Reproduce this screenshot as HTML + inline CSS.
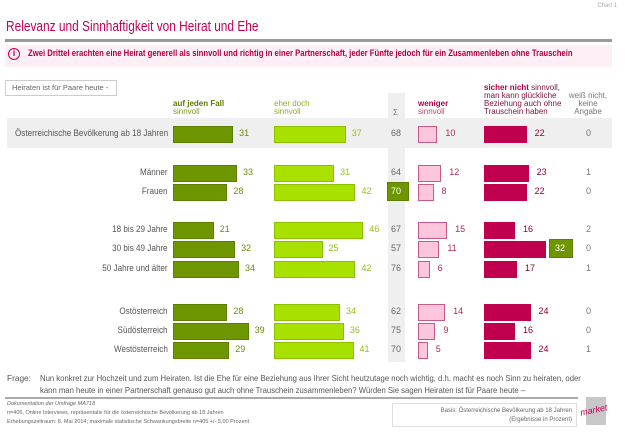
<!DOCTYPE html>
<html><head><meta charset="utf-8"><style>
*{margin:0;padding:0;box-sizing:border-box}
body{width:625px;height:433px;background:#fff;position:relative;overflow:hidden;font-family:"Liberation Sans",sans-serif;color:#555}
.a{position:absolute;white-space:nowrap}
.lab{position:absolute;right:457px;font-size:9px;color:#555;text-align:right;white-space:nowrap;transform:scaleX(0.9);transform-origin:right center}
.b{position:absolute;height:17px}
.g1{background:#6e9600;border:1px solid #5c7f00}
.g2{background:#a8e000;border:1px solid #8cc000}
.p{background:#fcc6dc;border:1px solid #c85a8a}
.c{background:#c0004e}
.v{position:absolute;font-size:9px;white-space:nowrap}
.vg1{color:#6e8a10}.vg2{color:#98bd20}.vp{color:#b0285e}.vc{color:#8a0038}.vs{color:#666}.vw{color:#777}
.h{position:absolute;font-size:8px;line-height:8px;white-space:nowrap}
</style></head><body>
<div class="a" style="right:8px;top:3px;font-size:6px;color:#aaa">Chart 1</div>
<div class="a" style="left:6px;top:19px;font-size:14.5px;color:#c4005a;transform:scaleX(0.82);transform-origin:left center">Relevanz und Sinnhaftigkeit von Heirat und Ehe</div>
<div class="a" style="left:5px;top:39px;width:607px;height:3px;background:#9a9a9a"></div>
<div class="a" style="left:5px;top:45px;width:607px;height:22px;background:#fdeff5"></div>
<div class="a" style="left:8px;top:48px;width:12px;height:12px;border:1.5px solid #c4005a;border-radius:50%;font-size:9px;line-height:9px;text-align:center;color:#c4005a;font-weight:bold">i</div>
<div class="a" style="left:28px;top:48px;font-size:9.3px;font-weight:bold;color:#b0004a;transform:scaleX(0.83);transform-origin:left center">Zwei Drittel erachten eine Heirat generell als sinnvoll und richtig in einer Partnerschaft, jeder Fünfte jedoch für ein Zusammenleben ohne Trauschein</div>
<div class="a" style="left:5px;top:80px;width:112px;height:16px;border:1px solid #ccc;font-size:7.5px;line-height:14px;padding-left:6px;color:#666">Heiraten ist für Paare heute -</div>

<div class="a" style="left:388px;top:93px;width:17px;height:269px;background:#efefef"></div>
<div class="a" style="left:7px;top:118px;width:605px;height:30px;background:#efefef"></div>

<div class="h" style="left:173px;top:100px;color:#5c7a00"><b>auf jeden Fall</b><br><span style="color:#7a9a20">sinnvoll</span></div>
<div class="h" style="left:274px;top:100px;color:#90b020">eher doch<br>sinnvoll</div>
<div class="h" style="left:393px;top:109px;color:#777">Σ</div>
<div class="h" style="left:418px;top:100px;color:#b0004a"><b>weniger</b><br><span style="color:#c04070">sinnvoll</span></div>
<div class="h" style="left:484px;top:84px;color:#7a1040"><b style="color:#b0004a">sicher nicht</b> sinnvoll,<br>man kann glückliche<br>Beziehung auch ohne<br>Trauschein haben</div>
<div class="h" style="left:568px;top:92px;width:40px;text-align:center;color:#777">weiß nicht,<br>keine<br>Angabe</div>

<div id="rows"></div>
<script>
var rows=[["Österreichische Bevölkerung ab 18 Jahren",31,37,68,10,22,0,134],
["Männer",33,31,64,12,23,1,173],["Frauen",28,42,70,8,22,0,192],
["18 bis 29 Jahre",21,46,67,15,16,2,230],["30 bis 49 Jahre",32,25,57,11,32,0,249],["50 Jahre und älter",34,42,76,6,17,1,269],
["Ostösterreich",28,34,62,14,24,0,312],["Südösterreich",39,36,75,9,16,0,331],["Westösterreich",29,41,70,5,24,1,350]];
var s="",k=1.94;
rows.forEach(function(r,i){var y=r[7],t=y-8.5,ty=y-6;
s+='<div class="lab" style="top:'+ty+'px">'+r[0]+'</div>';
var w1=r[1]*k,w2=r[2]*k,w4=r[4]*k,w5=r[5]*k;
s+='<div class="b g1" style="left:173px;top:'+t+'px;width:'+w1+'px"></div><div class="v vg1" style="left:'+(173+w1+6)+'px;top:'+ty+'px">'+r[1]+'</div>';
s+='<div class="b g2" style="left:274px;top:'+t+'px;width:'+w2+'px"></div><div class="v vg2" style="left:'+(274+w2+6)+'px;top:'+ty+'px">'+r[2]+'</div>';
if(r[0]=="Frauen")s+='<div class="a" style="left:387px;top:'+(y-10)+'px;width:22px;height:19px;background:#6e9600;border:1px solid #5c7f00"></div><div class="v" style="left:391px;top:'+ty+'px;color:#fff">70</div>';
else s+='<div class="v vs" style="left:391px;top:'+ty+'px">'+r[3]+'</div>';
s+='<div class="b p" style="left:418px;top:'+t+'px;width:'+w4+'px"></div><div class="v vp" style="left:'+(418+w4+8)+'px;top:'+ty+'px">'+r[4]+'</div>';
s+='<div class="b c" style="left:484px;top:'+t+'px;width:'+w5+'px"></div>';
if(r[0]=="30 bis 49 Jahre")s+='<div class="a" style="left:549px;top:'+(y-10)+'px;width:24px;height:19px;background:#6e9600;border:1px solid #5c7f00"></div><div class="v" style="left:555px;top:'+ty+'px;color:#fff">32</div>';
else s+='<div class="v vc" style="left:'+(484+w5+8)+'px;top:'+ty+'px">'+r[5]+'</div>';
s+='<div class="v vw" style="left:586px;top:'+ty+'px">'+r[6]+'</div>';});
document.getElementById("rows").innerHTML=s;
</script>

<div class="a" style="left:7px;top:373px;font-size:8.3px;color:#555">Frage:</div>
<div class="a" style="left:40px;top:373px;font-size:8.3px;line-height:11.5px;color:#555;transform:scaleX(0.93);transform-origin:left top">Nun konkret zur Hochzeit und zum Heiraten. Ist die Ehe für eine Beziehung aus Ihrer Sicht heutzutage noch wichtig, d.h. macht es noch Sinn zu heiraten, oder<br>kann man heute in einer Partnerschaft genauso gut auch ohne Trauschein zusammenleben? Würden Sie sagen Heiraten ist für Paare heute –</div>
<div class="a" style="left:5px;top:397px;width:573px;height:2px;background:#aaa"></div>
<div class="a" style="left:7px;top:400px;font-size:5.5px;line-height:9px;color:#666"><i>Dokumentation der Umfrage MA718</i><br>n=405, Online Interviews, repräsentativ für die österreichische Bevölkerung ab 18 Jahren<br>Erhebungszeitraum: 8. Mai 2014; maximale statistische Schwankungsbreite n=405 +/- 5,00 Prozent</div>
<div class="a" style="left:392px;top:403px;width:185px;height:24px;border:1px solid #ddd;font-size:6px;line-height:9px;text-align:right;padding:3px 4px;color:#666">Basis: Österreichische Bevölkerung ab 18 Jahren<br>(Ergebnisse in Prozent)</div>
<div class="a" style="left:586px;top:397px;width:20px;height:28px;background:#c8c8c8"></div>
<div class="a" style="left:580px;top:405px;font-size:9px;color:#c4005a;font-style:italic;transform:rotate(-12deg)">market</div>
</body></html>
